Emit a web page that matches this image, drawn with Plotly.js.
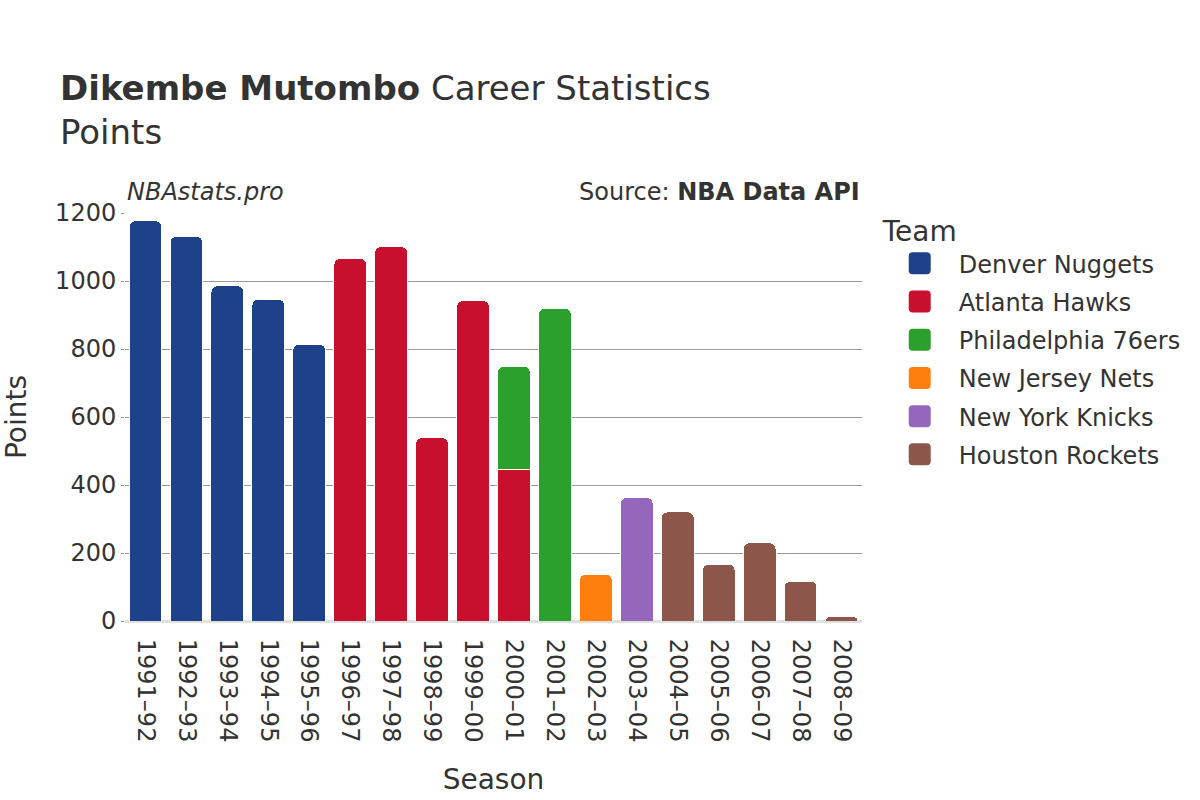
<!DOCTYPE html>
<html>
<head>
<meta charset="utf-8">
<script src="https://cdn.plot.ly/plotly-3.0.1.min.js"></script>
<style>
  html, body { margin: 0; padding: 0; background: #fff; }
  #chart { width: 1200px; height: 800px; }
</style>
</head>
<body>
<div id="chart"></div>
<script>
    // Seasons and points per team (null where the team has no row)
    var seasons = ['1991–92', '1992–93', '1993–94', '1994–95', '1995–96', '1996–97',
                   '1997–98', '1998–99', '1999–00', '2000–01', '2001–02', '2002–03',
                   '2003–04', '2004–05', '2005–06', '2006–07', '2007–08', '2008–09'];

    var teams = ['Denver Nuggets', 'Atlanta Hawks', 'Philadelphia 76ers',
                 'New Jersey Nets', 'New York Knicks', 'Houston Rockets'];
    var teamColors = ['#1d428a', '#c8102e', '#2ca02c', '#ff7f0e', '#9467bd', '#8c564b'];

    var denverPts  = [1177, 1131, 986, 946, 814, null, null, null, null, null, null, null, null, null, null, null, null, null];
    var atlantaPts = [null, null, null, null, null, 1066, 1101, 539, 942, 445, null, null, null, null, null, null, null, null];
    var phillyPts  = [null, null, null, null, null, null, null, null, null, 304, 919, null, null, null, null, null, null, null];
    var njPts      = [null, null, null, null, null, null, null, null, null, null, null, 138, null, null, null, null, null, null];
    var nyPts      = [null, null, null, null, null, null, null, null, null, null, null, null, 363, null, null, null, null, null];
    var houstonPts = [null, null, null, null, null, null, null, null, null, null, null, null, null, 321, 167, 230, 117, 14];

    var teamPoints = [denverPts, atlantaPts, phillyPts, njPts, nyPts, houstonPts];

    var traces = teams.map(function(team, i) {
        return {
            x: seasons,
            y: teamPoints[i],
            name: team,
            legendgroup: 'team' + i,
            type: 'bar',
            marker: {
                color: teamColors[i],
                line: { color: '#ffffff', width: 1 }
            },
            hovertemplate: '<b>%{x}</b><br>' + team + ': %{y}<extra></extra>'
        };
    });

    var fontFamily = '"DejaVu Sans", sans-serif';
    var textColor = '#333333';

    var layout = {
        width: 1200,
        height: 800,
        barmode: 'stack',
        bargap: 0.2,
        barcornerradius: 6,
        font: { family: fontFamily, color: textColor, size: 24 },
        margin: { t: 213, r: 338, b: 179, l: 125 },
        paper_bgcolor: '#ffffff',
        plot_bgcolor: '#ffffff',
        title: {
            text: '<b>Dikembe Mutombo</b> Career Statistics<br>Points',
            font: { size: 34, color: textColor },
            x: 0.05,
            xref: 'container',
            xanchor: 'left',
            y: 0.875,
            yref: 'container',
            yanchor: 'top'
        },
        xaxis: {
            title: { text: 'Season', font: { size: 28 }, standoff: 27 },
            tickangle: 90,
            tickfont: { size: 24 },
            showgrid: false,
            ticks: 'outside',
            ticklen: 12,
            tickcolor: 'rgba(0,0,0,0)',
            fixedrange: true
        },
        yaxis: {
            title: { text: 'Points', font: { size: 28 }, standoff: 33 },
            range: [0, 1200],
            dtick: 200,
            showgrid: true,
            gridcolor: '#999999',
            gridwidth: 1,
            zeroline: true,
            zerolinecolor: '#e0e0e0',
            zerolinewidth: 3,
            ticks: 'outside',
            ticklen: 3,
            tickcolor: '#999999',
            tickfont: { size: 24 },
            fixedrange: true
        },
        legend: {
            title: { text: 'Team', font: { size: 28 } },
            font: { size: 24 },
            x: 1.0254,
            xanchor: 'left',
            y: 1.02,
            yanchor: 'top',
            itemwidth: 68,
            tracegroupgap: 4,
            traceorder: 'grouped'
        },
        annotations: [
            {
                text: '<i>NBAstats.pro</i>',
                xref: 'paper', yref: 'paper',
                x: 0, y: 1,
                xanchor: 'left', yanchor: 'bottom',
                yshift: 5,
                showarrow: false,
                font: { size: 24, color: textColor }
            },
            {
                text: 'Source: <b>NBA Data API</b>',
                xref: 'paper', yref: 'paper',
                x: 1, y: 1,
                xanchor: 'right', yanchor: 'bottom',
                yshift: 5,
                showarrow: false,
                font: { size: 24, color: textColor }
            }
        ]
    };

    var config = { responsive: false, displayModeBar: false };

    Plotly.newPlot('chart', traces, layout, config).then(function(gd) {
        // larger rounded legend swatches, like the original
        gd.querySelectorAll('.legend .legendpoints path').forEach(function(p) {
            p.setAttribute('d', 'M-7,-11H7A4,4 0 0 1 11,-7V7A4,4 0 0 1 7,11H-7A4,4 0 0 1 -11,7V-7A4,4 0 0 1 -7,-11Z');
            p.style.strokeWidth = '0px';
        });
    });
</script>
</body>
</html>
